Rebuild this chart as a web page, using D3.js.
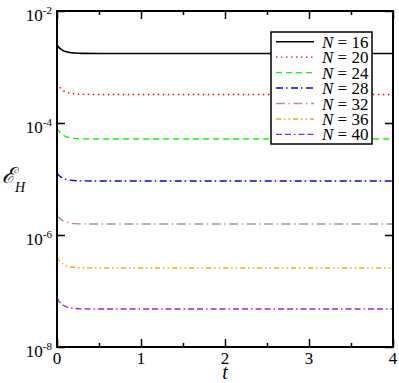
<!DOCTYPE html>
<html><head><meta charset="utf-8">
<script src="https://cdn.jsdelivr.net/npm/d3@7"></script>
<style>
body{margin:0;background:#fff}
#wrap{position:relative;width:399px;height:383px}
#xtitle{position:absolute;left:0;top:362px;width:450px;text-align:center;font-family:"Liberation Serif";font-style:italic;font-size:20px;line-height:1}
#ytick0{position:absolute;left:-200px;top:-200px;font-family:"Liberation Serif";font-size:17px;line-height:1}
</style>
</head><body>
<div id="wrap">
<svg id="c" width="399" height="383" font-family="Liberation Serif"></svg>
<div id="xtitle">t</div>
</div>
<script>
// ---- data ----
const times = [0, 0.025, 0.05, 0.075, 0.1, 0.15, 0.2, 0.3, 0.5, 1, 2, 3, 4];
const eN16 = [2.47e-3, 2.22e-3, 2.07e-3, 1.96e-3, 1.89e-3, 1.81e-3, 1.78e-3, 1.75e-3, 1.74e-3, 1.74e-3, 1.74e-3, 1.74e-3, 1.74e-3];
const eN20 = [5.18e-4, 4.50e-4, 4.07e-4, 3.79e-4, 3.62e-4, 3.42e-4, 3.32e-4, 3.25e-4, 3.23e-4, 3.23e-4, 3.23e-4, 3.23e-4, 3.23e-4];
const eN24 = [8.13e-5, 7.10e-5, 6.46e-5, 6.04e-5, 5.77e-5, 5.47e-5, 5.31e-5, 5.21e-5, 5.18e-5, 5.18e-5, 5.18e-5, 5.18e-5, 5.18e-5];
const eN28 = [1.28e-5, 1.16e-5, 1.08e-5, 1.03e-5, 9.97e-6, 9.58e-6, 9.39e-6, 9.26e-6, 9.21e-6, 9.21e-6, 9.21e-6, 9.21e-6, 9.21e-6];
const eN32 = [2.27e-6, 2.03e-6, 1.88e-6, 1.78e-6, 1.72e-6, 1.64e-6, 1.60e-6, 1.58e-6, 1.57e-6, 1.57e-6, 1.57e-6, 1.57e-6, 1.57e-6];
const eN36 = [4.05e-7, 3.54e-7, 3.22e-7, 3.01e-7, 2.87e-7, 2.72e-7, 2.65e-7, 2.60e-7, 2.58e-7, 2.58e-7, 2.58e-7, 2.58e-7, 2.58e-7];
const eN40 = [7.49e-8, 6.54e-8, 5.95e-8, 5.56e-8, 5.31e-8, 5.04e-8, 4.89e-8, 4.80e-8, 4.77e-8, 4.77e-8, 4.77e-8, 4.77e-8, 4.77e-8];
const sizes = [16, 20, 24, 28, 32, 36, 40];
const seriesValues = [eN16, eN20, eN24, eN28, eN32, eN36, eN40];
const xTickValues = [0, 1, 2, 3, 4];
const xMinorTicks = [0.5, 1.5, 2.5, 3.5];
const yTickExponents = [-2, -4, -6, -8];

// ---- styles ----
const SERIF = "Liberation Serif";
const colors = ["#000000", "#ff0000", "#00ff00", "#0000ff", "#bc8f8f", "#ffa500", "#a020f0"];
const dashes = [null, "1.5,3.5", "6,4", "7,3,1.5,3.5", "9,3.5,1.5,3.5", "5,3,1.5,3,1.5,3", "6,3,6,3,1.5,3"];

const svg = d3.select("#c");
const L = 57, R = 393, T = 11, B = 347;
const x = d3.scaleLinear().domain([0, 4]).range([L, R]);
const y = d3.scaleLog().domain([1e-8, 1e-2]).range([B, T]);

d3.select("#xtitle").style("width", (2 * x(2)) + "px");

svg.append("clipPath").attr("id", "clip").append("rect")
  .attr("x", L).attr("y", T).attr("width", R - L).attr("height", B - T);

const line = d3.line().x(d => x(d[0])).y(d => y(d[1])).curve(d3.curveMonotoneX);
const g = svg.append("g").attr("clip-path", "url(#clip)");
sizes.forEach((n, i) => {
  g.append("path")
    .datum(times.map((t, k) => [t, seriesValues[i][k]]))
    .attr("d", line)
    .attr("fill", "none")
    .attr("stroke", colors[i])
    .attr("stroke-width", i === 0 ? 1.6 : 1.4)
    .attr("stroke-dasharray", dashes[i]);
});

function styleAxis(sel) {
  sel.select(".domain").remove();
  sel.attr("font-family", null).attr("font-size", null);
  sel.selectAll("line").attr("stroke", "#000").attr("stroke-width", 1.5);
}
const yTickVals = yTickExponents.map(e => Math.pow(10, e));
svg.append("g").attr("transform", `translate(0,${B})`)
  .call(d3.axisBottom(x).tickValues(xTickValues).tickSize(-8).tickFormat(""))
  .call(styleAxis);
svg.append("g").attr("transform", `translate(0,${B})`)
  .call(d3.axisBottom(x).tickValues(xMinorTicks).tickSize(-4).tickFormat(""))
  .call(styleAxis);
svg.append("g").attr("transform", `translate(0,${T})`)
  .call(d3.axisTop(x).tickValues(xTickValues).tickSize(-8).tickFormat(""))
  .call(styleAxis);
svg.append("g").attr("transform", `translate(0,${T})`)
  .call(d3.axisTop(x).tickValues(xMinorTicks).tickSize(-4).tickFormat(""))
  .call(styleAxis);
svg.append("g").attr("transform", `translate(${L},0)`)
  .call(d3.axisLeft(y).tickValues(yTickVals).tickSize(-8).tickFormat(""))
  .call(styleAxis);
svg.append("g").attr("transform", `translate(${R},0)`)
  .call(d3.axisRight(y).tickValues(yTickVals).tickSize(-8).tickFormat(""))
  .call(styleAxis);

svg.append("rect").attr("x", L).attr("y", T).attr("width", R - L).attr("height", B - T)
  .attr("fill", "none").attr("stroke", "#000").attr("stroke-width", 2);

// x tick labels
xTickValues.forEach(v => {
  svg.append("text").attr("font-family", SERIF).attr("x", x(v)).attr("y", 364)
    .attr("text-anchor", "middle").attr("font-size", 17).text(d3.format("d")(v));
});
// y tick labels
yTickExponents.forEach(e => {
  const t = svg.append("text").attr("font-family", SERIF).attr("x", 52).attr("y", y(Math.pow(10, e)) + 9.5)
    .attr("text-anchor", "end").attr("font-size", 17);
  t.append("tspan").text("10");
  t.append("tspan").attr("font-size", 11).attr("dy", -7).text(String(e));
});

// y axis title
const yl = svg.append("text").attr("font-family", SERIF).attr("x", 2).attr("y", 183).attr("font-size", 22);
yl.append("tspan").attr("font-style", "italic").text("ℰ");
yl.append("tspan").attr("font-size", 14).attr("font-style", "italic").attr("dy", 9).text("H");

// legend
const lg = svg.append("g");
lg.append("rect").attr("x", 271).attr("y", 32).attr("width", 101).attr("height", 112)
  .attr("fill", "#fff").attr("stroke", "#000").attr("stroke-width", 1.5);
sizes.forEach((n, i) => {
  const yy = 41.7 + i * 15.45;
  lg.append("line").attr("x1", 276).attr("x2", 314).attr("y1", yy).attr("y2", yy)
    .attr("stroke", colors[i]).attr("stroke-width", i === 0 ? 1.6 : 1.4)
    .attr("stroke-dasharray", dashes[i]);
  const tx = lg.append("text").attr("font-family", SERIF).attr("x", 322).attr("y", yy + 6).attr("font-size", 17);
  tx.append("tspan").attr("font-style", "italic").text("N");
  tx.append("tspan").text(" = " + n);
});

// re-apply font once fonts settle
if (document.fonts && document.fonts.ready) {
  document.fonts.ready.then(() => {
    svg.selectAll("text").attr("font-family", SERIF);
  });
}
</script>
</body></html>
